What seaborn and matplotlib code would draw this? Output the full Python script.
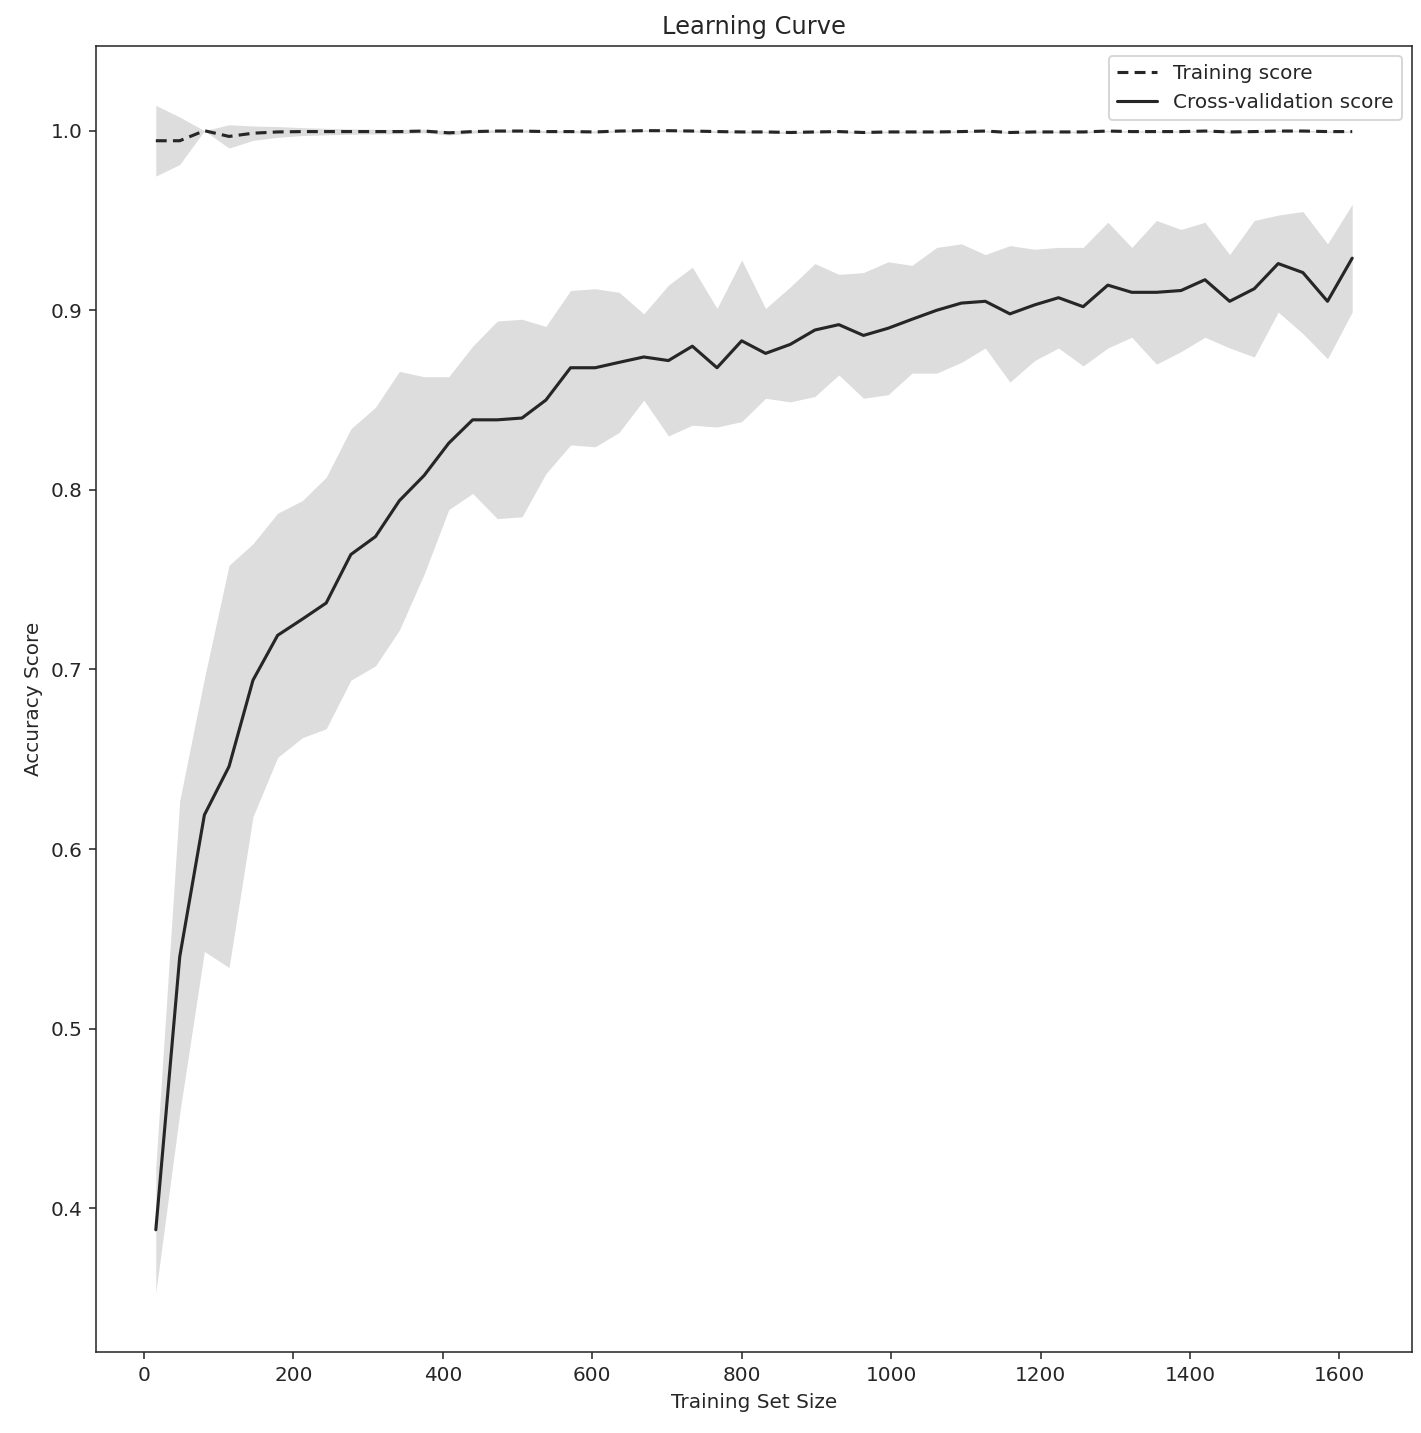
import matplotlib
matplotlib.use('Agg')
import matplotlib.pyplot as plt
import seaborn as sns
import numpy as np

# 训练集规模（50个点）
train_sizes = [16, 48, 81, 114, 146, 179, 212, 244, 277, 310,
               342, 375, 408, 440, 473, 506, 538, 571, 604, 636,
               669, 702, 734, 767, 800, 832, 865, 898, 930, 963,
               996, 1028, 1061, 1094, 1126, 1159, 1192, 1224, 1257, 1290,
               1322, 1355, 1388, 1420, 1453, 1486, 1518, 1551, 1584, 1617]

# 训练得分（均值 / 标准差）
train_mean = [0.9944, 0.9944, 1.0, 0.9968, 0.9986, 0.9993, 0.9995, 0.9995, 0.9995, 0.9995,
              0.9995, 0.9998, 0.9988, 0.9995, 0.9998, 0.9998, 0.9995, 0.9995, 0.9993, 0.9998,
              1.0, 1.0, 0.9998, 0.9995, 0.9993, 0.9993, 0.9990, 0.9993, 0.9995, 0.9990,
              0.9993, 0.9993, 0.9993, 0.9995, 0.9998, 0.9990, 0.9993, 0.9993, 0.9993, 0.9998,
              0.9995, 0.9995, 0.9995, 0.9998, 0.9993, 0.9995, 0.9998, 0.9998, 0.9995, 0.9995]
train_std = [0.0197, 0.0132, 0.0, 0.0065, 0.0040, 0.0030, 0.0022, 0.0018, 0.0015, 0.0013,
             0.0012, 0.0010, 0.0012, 0.0008, 0.0007, 0.0007, 0.0006, 0.0006, 0.0006, 0.0005,
             0.0005, 0.0005, 0.0005, 0.0005, 0.0005, 0.0005, 0.0006, 0.0005, 0.0005, 0.0006,
             0.0005, 0.0005, 0.0005, 0.0005, 0.0004, 0.0006, 0.0005, 0.0005, 0.0005, 0.0004,
             0.0004, 0.0004, 0.0004, 0.0004, 0.0005, 0.0004, 0.0004, 0.0004, 0.0004, 0.0004]

# 交叉验证得分（均值 / 标准差）
test_mean = [0.388, 0.540, 0.619, 0.646, 0.694, 0.719, 0.728, 0.737, 0.764, 0.774,
             0.794, 0.808, 0.826, 0.839, 0.839, 0.840, 0.850, 0.868, 0.868, 0.871,
             0.874, 0.872, 0.880, 0.868, 0.883, 0.876, 0.881, 0.889, 0.892, 0.886,
             0.890, 0.895, 0.900, 0.904, 0.905, 0.898, 0.903, 0.907, 0.902, 0.914,
             0.910, 0.910, 0.911, 0.917, 0.905, 0.912, 0.926, 0.921, 0.905, 0.929]
test_std = [0.035, 0.087, 0.076, 0.112, 0.076, 0.068, 0.066, 0.070, 0.070, 0.072,
            0.072, 0.055, 0.037, 0.041, 0.055, 0.055, 0.041, 0.043, 0.044, 0.039,
            0.024, 0.042, 0.044, 0.033, 0.045, 0.025, 0.032, 0.037, 0.028, 0.035,
            0.037, 0.030, 0.035, 0.033, 0.026, 0.038, 0.031, 0.028, 0.033, 0.035,
            0.025, 0.040, 0.034, 0.032, 0.026, 0.038, 0.027, 0.034, 0.032, 0.030]

sns.set_style('ticks')
plt.rcParams['font.family'] = ['DejaVu Sans']

sizes = np.array(train_sizes)
tr_m, tr_s = np.array(train_mean), np.array(train_std)
te_m, te_s = np.array(test_mean), np.array(test_std)

fig, ax = plt.subplots(figsize=(1421 / 140, 1433 / 140), dpi=140)
fig.subplots_adjust(left=96 / 1421, right=1412 / 1421, top=1 - 46 / 1433, bottom=1 - 1352 / 1433)

line_col = '#262626'

# 曲线
sns.lineplot(x=sizes, y=tr_m, ax=ax, color=line_col, linestyle='--', linewidth=1.6,
             dashes=False, label='Training score')
ax.lines[-1].set_dashes((3.5, 2.0))
sns.lineplot(x=sizes, y=te_m, ax=ax, color=line_col, linewidth=1.6,
             label='Cross-validation score')

# 标准差区间
ax.fill_between(sizes, tr_m - tr_s, tr_m + tr_s, color='#DDDDDD', linewidth=0)
ax.fill_between(sizes, te_m - te_s, te_m + te_s, color='#DDDDDD', linewidth=0)

ax.set_title('Learning Curve', fontsize=12.4)
ax.set_xlabel('Training Set Size', fontsize=10.3, labelpad=4.5)
ax.set_ylabel('Accuracy Score', fontsize=10.3)
ax.tick_params(labelsize=10.3, length=3.5, width=0.8)
for sp in ax.spines.values():
    sp.set_linewidth(0.8)
ax.legend(loc='best', fontsize=10.3)

plt.savefig('out.png', dpi=140)
